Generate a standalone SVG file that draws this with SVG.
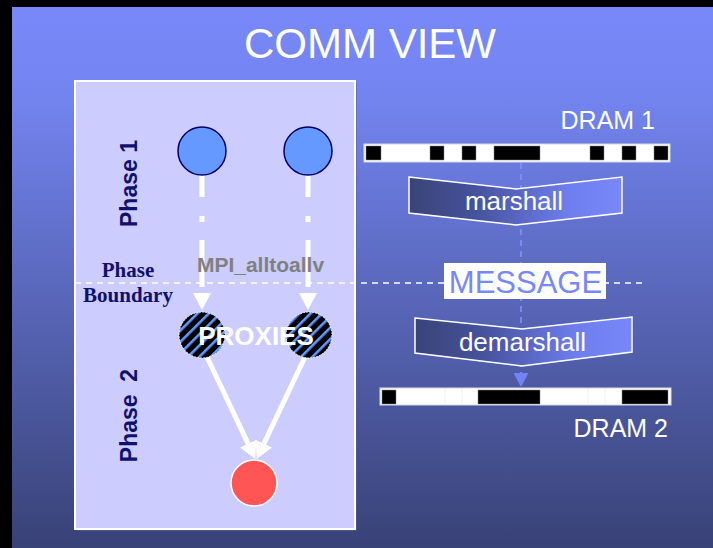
<svg xmlns="http://www.w3.org/2000/svg" width="713" height="548" viewBox="0 0 713 548">
  <defs>
    <linearGradient id="bg" x1="0" y1="7" x2="0" y2="548" gradientUnits="userSpaceOnUse">
      <stop offset="0" stop-color="#7888F8"/>
      <stop offset="0.15" stop-color="#7485F2"/>
      <stop offset="1" stop-color="#384276"/>
    </linearGradient>
    <linearGradient id="chevron" x1="0" y1="0" x2="1" y2="0">
      <stop offset="0" stop-color="#3A4478"/>
      <stop offset="0.3" stop-color="#45519A"/>
      <stop offset="0.75" stop-color="#6E7EEE"/>
      <stop offset="1" stop-color="#7888F8"/>
    </linearGradient>
    <pattern id="stripes" width="8" height="8" patternUnits="userSpaceOnUse" patternTransform="rotate(45)">
      <rect width="8" height="8" fill="#000000"/>
      <rect x="0" y="0" width="2.6" height="8" fill="#6699FF"/>
    </pattern>
    <marker id="whiteHead" viewBox="0 0 17 18" refX="0" refY="9" markerWidth="17" markerHeight="18" markerUnits="userSpaceOnUse" orient="auto">
      <path d="M0,0 L17,9 L0,18 Z" fill="#FFFFFF"/>
    </marker>
    <marker id="blueHead" viewBox="0 0 14 15" refX="0" refY="7.5" markerWidth="14" markerHeight="15" markerUnits="userSpaceOnUse" orient="auto">
      <path d="M0,0 L14,7.5 L0,15 Z" fill="#7283F5"/>
    </marker>
    <style>
      .phase { font-family: "Liberation Sans", Arial, sans-serif; font-weight: bold; font-size: 23px; fill: #10106E; }
      .bnd { font-family: "Liberation Serif", "Times New Roman", serif; font-weight: bold; font-size: 21px; fill: #10106E; }
      .lbl { font-family: "Liberation Sans", Arial, sans-serif; fill: #FFFFFF; }
      .p1 { fill: #6699FF; stroke: #000066; stroke-width: 1.5; }
      .proxy { fill: url(#stripes); stroke: #FFFFFF; stroke-width: 1; stroke-dasharray: 1.5 1.5; }
      .flow { fill: none; stroke: #FFFFFF; stroke-width: 5; }
      .chev { fill: url(#chevron); stroke: #FFFFFF; stroke-width: 1.5; }
      .bar { fill: #FFFFFF; stroke: #D8D8E8; stroke-width: 1; }
      .blk { fill: #000000; stroke: #888888; stroke-width: 0.5; }
    </style>
  </defs>

  <!-- slide backdrop -->
  <rect width="713" height="548" fill="#000000"/>
  <rect x="12" y="7" width="701" height="541" fill="url(#bg)"/>

  <text x="370" y="58" text-anchor="middle" class="lbl" font-size="42">COMM VIEW</text>

  <!-- phase panel -->
  <rect x="76.5" y="82.5" width="280" height="448" fill="#5E6496"/>
  <rect x="75" y="81" width="280" height="448" fill="#CCCCFF" stroke="#FFFFFF" stroke-width="2"/>

  <text class="phase" transform="translate(137,183.5) rotate(-90)" text-anchor="middle">Phase 1</text>
  <text class="phase" transform="translate(137,415.5) rotate(-90)" text-anchor="middle" xml:space="preserve">Phase  2</text>
  <text class="bnd" x="128" y="277" text-anchor="middle">Phase</text>
  <text class="bnd" x="128" y="302" text-anchor="middle">Boundary</text>

  <!-- connectors -->
  <g id="connectors">
    <line x1="75" y1="283" x2="643" y2="283" stroke="#FFFFFF" stroke-width="1.5" stroke-dasharray="6 5"/>
    <path class="flow" d="M202,174 L202,293" stroke-dasharray="23 19 6 18 47 10" marker-end="url(#whiteHead)"/>
    <path class="flow" d="M308,174 L308,293" stroke-dasharray="23 19 6 18 47 10" marker-end="url(#whiteHead)"/>
    <path class="flow" d="M207,357 L248.1,443.6" marker-end="url(#whiteHead)"/>
    <path class="flow" d="M305,357 L263.9,443.6" marker-end="url(#whiteHead)"/>
    <path d="M521,163 L521,373" fill="none" stroke="#8494FF" stroke-width="1.5" stroke-dasharray="6 5" marker-end="url(#blueHead)"/>
  </g>

  <text x="260.5" y="272" text-anchor="middle" font-family="Liberation Sans, Arial, sans-serif" font-weight="bold" font-size="21" fill="#808080">MPI_alltoallv</text>

  <!-- phase 1 processes -->
  <g id="proc-a"><circle class="p1" cx="202" cy="151" r="24"/></g>
  <g id="proc-b"><circle class="p1" cx="308" cy="151" r="24"/></g>

  <!-- proxies -->
  <g id="proxy-a"><circle class="proxy" cx="202" cy="335" r="23"/></g>
  <g id="proxy-b"><circle class="proxy" cx="309" cy="335" r="23"/></g>
  <text x="256" y="345" text-anchor="middle" class="lbl" font-weight="bold" font-size="26">PROXIES</text>

  <!-- phase 2 target -->
  <g id="target"><circle cx="254" cy="483" r="23" fill="#FF5555" stroke="#FFFFFF" stroke-width="1.5"/></g>

  <!-- DRAM 1 layout -->
  <g id="dram1">
    <text x="655" y="129" text-anchor="end" class="lbl" font-size="25">DRAM 1</text>
    <rect class="bar" x="364" y="144" width="306" height="18"/>
    <rect class="blk" x="366" y="146" width="15" height="14"/>
    <rect class="blk" x="430" y="146" width="14" height="14"/>
    <rect class="blk" x="462" y="146" width="14" height="14"/>
    <rect class="blk" x="494" y="146" width="46" height="14"/>
    <rect class="blk" x="590" y="146" width="14" height="14"/>
    <rect class="blk" x="622" y="146" width="14" height="14"/>
    <rect class="blk" x="654" y="146" width="14" height="14"/>
  </g>

  <g id="marshall">
    <polygon class="chev" points="409,177 516,189 622,177 622,213 516,225 409,213"/>
    <text x="514" y="210" text-anchor="middle" class="lbl" font-size="26">marshall</text>
  </g>

  <g id="message">
    <rect x="444" y="263" width="162" height="36" fill="#FFFFFF"/>
    <text x="525.5" y="293" text-anchor="middle" font-family="Liberation Sans, Arial, sans-serif" font-size="31" fill="#7888F8">MESSAGE</text>
  </g>

  <g id="demarshall">
    <polygon class="chev" points="415,318 522,329 632,317 632,352 522,366 415,353"/>
    <text x="522.5" y="351" text-anchor="middle" class="lbl" font-size="26">demarshall</text>
  </g>

  <!-- DRAM 2 layout -->
  <g id="dram2">
    <rect class="bar" x="380" y="388" width="291" height="17"/>
    <g stroke="#F2F2F6" stroke-width="1">
      <line x1="445" y1="389" x2="445" y2="404"/>
      <line x1="462" y1="389" x2="462" y2="404"/>
      <line x1="588" y1="389" x2="588" y2="404"/>
      <line x1="605" y1="389" x2="605" y2="404"/>
    </g>
    <rect class="blk" x="382" y="390" width="14" height="14"/>
    <rect class="blk" x="478" y="390" width="62" height="14"/>
    <rect class="blk" x="622" y="390" width="46" height="14"/>
    <text x="668" y="437" text-anchor="end" class="lbl" font-size="25">DRAM 2</text>
  </g>
</svg>
